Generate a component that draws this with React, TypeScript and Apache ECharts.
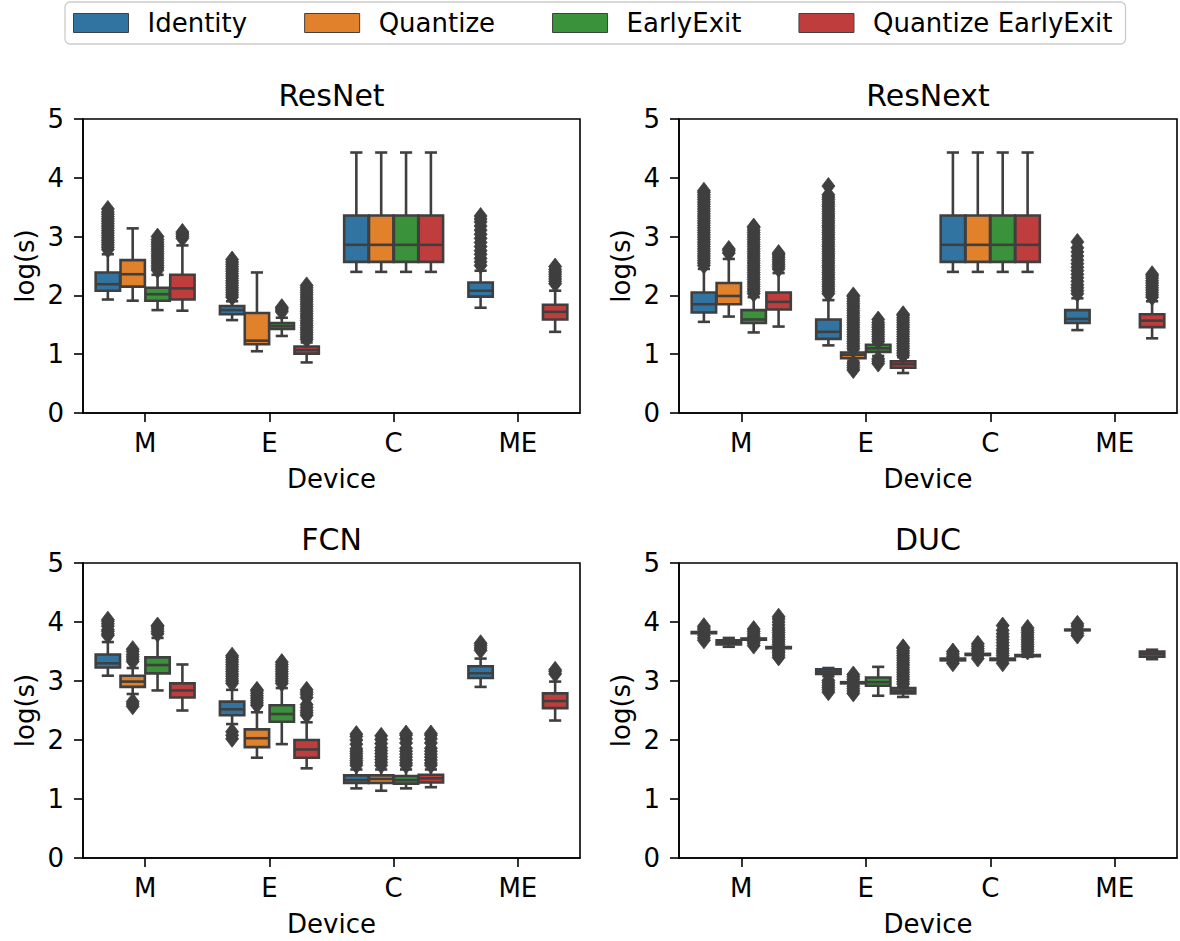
import React, { useEffect, useRef } from 'react';
import * as echarts from 'echarts';

// ---------- categories ----------
const devices = ['M', 'E', 'C', 'ME'];
const methods = ['Identity', 'Quantize', 'EarlyExit', 'Quantize EarlyExit'];
const models = ['ResNet', 'ResNext', 'FCN', 'DUC'];
const methodColors = ['#3274a1', '#e1812c', '#3a923a', '#c03d3e'];

// ---------- box statistics: [min, Q1, median, Q3, max] per device (M, E, C, ME) ----------
const resnetIdentity = [[1.93, 2.08, 2.19, 2.39, 2.70], [1.58, 1.68, 1.75, 1.82, 1.90], [2.40, 2.57, 2.86, 3.36, 4.43], [1.79, 1.98, 2.08, 2.22, 2.42]];
const resnetQuantize = [[1.91, 2.15, 2.36, 2.60, 3.14], [1.05, 1.17, 1.23, 1.70, 2.39], [2.40, 2.57, 2.86, 3.36, 4.43], null];
const resnetEarlyExit = [[1.75, 1.91, 2.02, 2.13, 2.35], [1.31, 1.43, 1.48, 1.53, 1.62], [2.40, 2.57, 2.86, 3.36, 4.43], null];
const resnetQuantizeEarlyExit = [[1.74, 1.93, 2.12, 2.35, 2.85], [0.86, 1.01, 1.07, 1.13, 1.20], [2.40, 2.57, 2.86, 3.36, 4.43], [1.38, 1.59, 1.72, 1.84, 2.08]];

const resnextIdentity = [[1.55, 1.71, 1.85, 2.05, 2.45], [1.15, 1.26, 1.38, 1.59, 1.92], [2.40, 2.57, 2.86, 3.36, 4.43], [1.41, 1.53, 1.60, 1.75, 1.95]];
const resnextQuantize = [[1.64, 1.85, 1.99, 2.21, 2.62], [0.89, 0.93, 0.99, 1.03, 1.07], [2.40, 2.57, 2.86, 3.36, 4.43], null];
const resnextEarlyExit = [[1.37, 1.53, 1.59, 1.75, 1.97], [0.97, 1.04, 1.10, 1.16, 1.20], [2.40, 2.57, 2.86, 3.36, 4.43], null];
const resnextQuantizeEarlyExit = [[1.47, 1.76, 1.89, 2.05, 2.38], [0.68, 0.77, 0.83, 0.88, 0.95], [2.40, 2.57, 2.86, 3.36, 4.43], [1.27, 1.46, 1.57, 1.68, 1.90]];

const fcnIdentity = [[3.09, 3.23, 3.30, 3.45, 3.66], [2.27, 2.42, 2.52, 2.65, 2.85], [1.18, 1.27, 1.32, 1.40, 1.50], [2.90, 3.05, 3.13, 3.25, 3.38]];
const fcnQuantize = [[2.78, 2.90, 2.99, 3.09, 3.22], [1.70, 1.88, 2.03, 2.18, 2.47], [1.14, 1.27, 1.34, 1.40, 1.50], null];
const fcnEarlyExit = [[2.84, 3.13, 3.27, 3.40, 3.73], [1.93, 2.31, 2.44, 2.59, 2.88], [1.18, 1.26, 1.32, 1.39, 1.50], null];
const fcnQuantizeEarlyExit = [[2.50, 2.72, 2.84, 2.96, 3.28], [1.52, 1.70, 1.84, 2.00, 2.30], [1.20, 1.28, 1.35, 1.41, 1.50], [2.33, 2.54, 2.66, 2.79, 2.99]];

const ducIdentity = [[3.80, 3.81, 3.82, 3.83, 3.84], [3.08, 3.12, 3.16, 3.20, 3.22], [3.33, 3.35, 3.36, 3.38, 3.40], [3.85, 3.86, 3.865, 3.87, 3.88]];
const ducQuantize = [[3.58, 3.62, 3.66, 3.69, 3.73], [2.94, 2.96, 2.97, 2.98, 3.00], [3.42, 3.44, 3.45, 3.46, 3.48], null];
const ducEarlyExit = [[3.69, 3.70, 3.71, 3.72, 3.73], [2.75, 2.92, 2.98, 3.06, 3.24], [3.34, 3.355, 3.365, 3.38, 3.39], null];
const ducQuantizeEarlyExit = [[3.54, 3.555, 3.565, 3.575, 3.59], [2.73, 2.79, 2.83, 2.88, 2.90], [3.41, 3.42, 3.43, 3.44, 3.46], [3.37, 3.41, 3.46, 3.50, 3.53]];

// ---------- outliers per device (M, E, C, ME) ----------
const resnetIdentityOut = [
  [2.78, 2.82, 2.86, 2.9, 2.94, 2.98, 3.02, 3.06, 3.1, 3.14, 3.18, 3.22, 3.26, 3.3, 3.34, 3.38, 3.42, 3.47],
  [1.97, 2.01, 2.05, 2.09, 2.13, 2.17, 2.21, 2.25, 2.29, 2.33, 2.37, 2.41, 2.45, 2.49, 2.53, 2.57, 2.61],
  [],
  [2.51, 2.57, 2.63, 2.7, 2.76, 2.83, 2.9, 2.97, 3.04, 3.11, 3.18, 3.25, 3.3, 3.35],
];
const resnetQuantizeOut = [[], [], [], []];
const resnetEarlyExitOut = [
  [2.43, 2.47, 2.51, 2.55, 2.59, 2.63, 2.67, 2.71, 2.75, 2.79, 2.83, 2.87, 2.91, 2.95, 3.0],
  [1.72, 1.75, 1.78, 1.8],
  [],
  [],
];
const resnetQuantizeEarlyExitOut = [
  [2.97, 3.0, 3.03, 3.06, 3.08],
  [1.25, 1.29, 1.33, 1.37, 1.41, 1.45, 1.49, 1.53, 1.57, 1.61, 1.65, 1.69, 1.73, 1.77, 1.81, 1.85, 1.89, 1.93, 1.97, 2.01, 2.05, 2.09, 2.13, 2.17],
  [],
  [2.2, 2.24, 2.28, 2.32, 2.36, 2.4, 2.44, 2.49],
];

const resnextIdentityOut = [
  [2.51, 2.55, 2.59, 2.63, 2.67, 2.71, 2.75, 2.79, 2.83, 2.87, 2.91, 2.95, 2.99, 3.03, 3.07, 3.11, 3.15, 3.19, 3.23, 3.27, 3.31, 3.35, 3.39, 3.43, 3.47, 3.51, 3.55, 3.59, 3.63, 3.67, 3.71, 3.75, 3.78],
  [2.03, 2.07, 2.11, 2.15, 2.19, 2.23, 2.27, 2.31, 2.35, 2.39, 2.43, 2.47, 2.51, 2.55, 2.59, 2.63, 2.67, 2.71, 2.75, 2.79, 2.83, 2.87, 2.91, 2.95, 2.99, 3.03, 3.07, 3.11, 3.15, 3.19, 3.23, 3.27, 3.31, 3.35, 3.39, 3.43, 3.47, 3.51, 3.55, 3.59, 3.63, 3.67, 3.71, 3.86],
  [],
  [2.03, 2.08, 2.13, 2.18, 2.24, 2.3, 2.36, 2.42, 2.48, 2.54, 2.6, 2.67, 2.74, 2.81, 2.91],
];
const resnextQuantizeOut = [
  [2.72, 2.76, 2.79],
  [0.73, 0.77, 0.81, 0.85, 1.1, 1.14, 1.18, 1.22, 1.26, 1.3, 1.34, 1.38, 1.42, 1.46, 1.5, 1.54, 1.58, 1.62, 1.66, 1.7, 1.74, 1.78, 1.82, 1.86, 1.9, 1.94, 1.98, 2.0],
  [],
  [],
];
const resnextEarlyExitOut = [
  [2.03, 2.07, 2.11, 2.15, 2.19, 2.23, 2.27, 2.31, 2.35, 2.39, 2.43, 2.47, 2.51, 2.55, 2.59, 2.63, 2.67, 2.71, 2.75, 2.79, 2.83, 2.87, 2.91, 2.95, 2.99, 3.03, 3.07, 3.11, 3.15, 3.17],
  [0.84, 0.88, 0.92, 1.22, 1.26, 1.3, 1.34, 1.38, 1.42, 1.46, 1.5, 1.54, 1.59],
  [],
  [],
];
const resnextQuantizeEarlyExitOut = [
  [2.45, 2.49, 2.53, 2.57, 2.61, 2.65, 2.69, 2.72],
  [0.98, 1.02, 1.06, 1.1, 1.14, 1.18, 1.22, 1.26, 1.3, 1.34, 1.38, 1.42, 1.46, 1.5, 1.54, 1.58, 1.62, 1.66, 1.68],
  [],
  [1.97, 2.01, 2.05, 2.09, 2.13, 2.17, 2.21, 2.25, 2.29, 2.33, 2.36],
];

const fcnIdentityOut = [
  [3.77, 3.8, 3.84, 3.87, 3.93, 3.97, 4.01, 4.04],
  [2.02, 2.08, 2.14, 2.96, 3.0, 3.04, 3.08, 3.12, 3.16, 3.2, 3.24, 3.28, 3.32, 3.36, 3.4, 3.43],
  [1.57, 1.61, 1.65, 1.69, 1.73, 1.77, 1.81, 1.85, 1.93, 2.0, 2.06, 2.1],
  [3.52, 3.56, 3.6, 3.64],
];
const fcnQuantizeOut = [
  [2.57, 2.61, 2.65, 3.33, 3.37, 3.41, 3.45, 3.5, 3.54],
  [2.59, 2.63, 2.67, 2.71, 2.75, 2.79, 2.83, 2.85],
  [1.57, 1.62, 1.67, 1.72, 1.77, 1.82, 1.87, 1.94, 2.01, 2.07],
  [],
];
const fcnEarlyExitOut = [
  [3.8, 3.84, 3.88, 3.92, 3.94],
  [2.96, 3.0, 3.04, 3.08, 3.12, 3.16, 3.2, 3.24, 3.28, 3.32],
  [1.57, 1.61, 1.66, 1.71, 1.76, 1.81, 1.86, 1.95, 2.02, 2.08, 2.11],
  [],
];
const fcnQuantizeEarlyExitOut = [
  [],
  [2.42, 2.46, 2.5, 2.55, 2.6, 2.72, 2.77, 2.81, 2.85],
  [1.57, 1.61, 1.66, 1.71, 1.76, 1.81, 1.86, 1.95, 2.02, 2.08, 2.11],
  [3.12, 3.16, 3.19],
];

const ducIdentityOut = [
  [3.69, 3.73, 3.77, 3.87, 3.9, 3.93],
  [2.81, 2.85, 2.89, 2.93, 2.97, 3.01],
  [3.3, 3.42, 3.46, 3.5],
  [3.77, 3.81, 3.93, 3.97],
];
const ducQuantizeOut = [
  [],
  [2.79, 2.83, 2.87, 2.91, 3.03, 3.07, 3.11],
  [3.38, 3.51, 3.55, 3.59, 3.63],
  [],
];
const ducEarlyExitOut = [
  [3.6, 3.64, 3.67, 3.76, 3.8, 3.84, 3.88],
  [],
  [3.3, 3.43, 3.47, 3.51, 3.55, 3.6, 3.65, 3.7, 3.75, 3.8, 3.86, 3.94],
  [],
];
const ducQuantizeEarlyExitOut = [
  [3.4, 3.44, 3.48, 3.51, 3.62, 3.66, 3.7, 3.74, 3.78, 3.82, 3.86, 3.9, 3.95, 4.0, 4.05, 4.09],
  [2.95, 2.99, 3.03, 3.07, 3.11, 3.15, 3.19, 3.23, 3.27, 3.31, 3.35, 3.39, 3.43, 3.47, 3.51, 3.55, 3.57],
  [3.5, 3.54, 3.58, 3.62, 3.66, 3.7, 3.74, 3.78, 3.82, 3.86, 3.9],
  [],
];

const boxTables = [
  [resnetIdentity, resnetQuantize, resnetEarlyExit, resnetQuantizeEarlyExit],
  [resnextIdentity, resnextQuantize, resnextEarlyExit, resnextQuantizeEarlyExit],
  [fcnIdentity, fcnQuantize, fcnEarlyExit, fcnQuantizeEarlyExit],
  [ducIdentity, ducQuantize, ducEarlyExit, ducQuantizeEarlyExit],
];
const outlierTables = [
  [resnetIdentityOut, resnetQuantizeOut, resnetEarlyExitOut, resnetQuantizeEarlyExitOut],
  [resnextIdentityOut, resnextQuantizeOut, resnextEarlyExitOut, resnextQuantizeEarlyExitOut],
  [fcnIdentityOut, fcnQuantizeOut, fcnEarlyExitOut, fcnQuantizeEarlyExitOut],
  [ducIdentityOut, ducQuantizeOut, ducEarlyExitOut, ducQuantizeEarlyExitOut],
];

// ---------- styling / layout ----------
const FONT = 'DejaVu Sans';
const GRAY = '#3f3f3f';
const LW = 2.6;
const grids = [
  { left: 83, top: 119, width: 497, height: 294 },
  { left: 679, top: 119, width: 498, height: 294 },
  { left: 83, top: 563, width: 497, height: 295 },
  { left: 679, top: 563, width: 498, height: 295 },
];

const makeBoxRenderer = (h: number, color: string) => (params: any, api: any) => {
  const x = api.value(0);
  const band = api.size([1, 0])[0];
  const off = (h - 1.5) * 0.2 * band;
  const w = 0.2 * band * 0.98;
  const cap = w / 2;
  const pMin = api.coord([x, api.value(1)]);
  const pQ1 = api.coord([x, api.value(2)]);
  const pMed = api.coord([x, api.value(3)]);
  const pQ3 = api.coord([x, api.value(4)]);
  const pMax = api.coord([x, api.value(5)]);
  const cx = pMed[0] + off;
  const ls = { stroke: GRAY, lineWidth: LW };
  return {
    type: 'group',
    children: [
      { type: 'line', shape: { x1: cx, y1: pQ1[1], x2: cx, y2: pMin[1] }, style: ls },
      { type: 'line', shape: { x1: cx, y1: pQ3[1], x2: cx, y2: pMax[1] }, style: ls },
      { type: 'line', shape: { x1: cx - cap / 2, y1: pMin[1], x2: cx + cap / 2, y2: pMin[1] }, style: ls },
      { type: 'line', shape: { x1: cx - cap / 2, y1: pMax[1], x2: cx + cap / 2, y2: pMax[1] }, style: ls },
      {
        type: 'rect',
        shape: { x: cx - w / 2, y: pQ3[1], width: w, height: Math.max(pQ1[1] - pQ3[1], 0.5) },
        style: { fill: color, stroke: GRAY, lineWidth: LW },
      },
      { type: 'line', shape: { x1: cx - w / 2, y1: pMed[1], x2: cx + w / 2, y2: pMed[1] }, style: ls },
    ],
  };
};

const makeFlierRenderer = (h: number) => (params: any, api: any) => {
  const x = api.value(0);
  const band = api.size([1, 0])[0];
  const pt = api.coord([x, api.value(1)]);
  const cx = pt[0] + (h - 1.5) * 0.2 * band;
  const cy = pt[1];
  const hw = 6.5;
  const hh = 8.5;
  return {
    type: 'polygon',
    shape: { points: [[cx, cy - hh], [cx + hw, cy], [cx, cy + hh], [cx - hw, cy]] },
    style: { fill: GRAY, stroke: GRAY, lineWidth: 0.8 },
  };
};

function buildOption() {
  const xAxis: any[] = [];
  const yAxis: any[] = [];
  const series: any[] = [];
  const graphic: any[] = [];

  grids.forEach((g, gi) => {
    xAxis.push({
      type: 'category',
      gridIndex: gi,
      data: devices,
      name: 'Device',
      nameLocation: 'middle',
      nameGap: 53,
      nameTextStyle: { fontSize: 26, color: '#000', fontFamily: FONT },
      axisLine: { show: true, lineStyle: { color: '#000', width: 1.6 } },
      axisTick: { show: true, alignWithLabel: true, length: 9, lineStyle: { color: '#000', width: 1.6 } },
      axisLabel: { fontSize: 26, color: '#000', fontFamily: FONT, margin: 17 },
      splitLine: { show: false },
    });
    yAxis.push({
      type: 'value',
      gridIndex: gi,
      min: 0,
      max: 5,
      interval: 1,
      name: 'log(s)',
      nameLocation: 'middle',
      nameGap: 45,
      nameTextStyle: { fontSize: 26, color: '#000', fontFamily: FONT },
      axisLine: { show: true, lineStyle: { color: '#000', width: 1.6 } },
      axisTick: { show: true, length: 9, lineStyle: { color: '#000', width: 1.6 } },
      axisLabel: { fontSize: 26, color: '#000', fontFamily: FONT, margin: 19 },
      splitLine: { show: false },
    });
    graphic.push({
      type: 'text',
      x: g.left + g.width / 2,
      y: g.top - 24,
      style: {
        text: models[gi],
        fontSize: 30,
        fontFamily: FONT,
        fill: '#000',
        align: 'center',
        verticalAlign: 'middle',
        textAlign: 'center',
        textVerticalAlign: 'middle',
      },
    });

    methods.forEach((m, h) => {
      const table = boxTables[gi][h];
      const boxData: any[] = [];
      table.forEach((b, i) => {
        if (b) boxData.push([i, ...b]);
      });
      series.push({
        type: 'custom',
        name: m,
        xAxisIndex: gi,
        yAxisIndex: gi,
        data: boxData,
        encode: { x: 0, y: [1, 2, 3, 4, 5] },
        renderItem: makeBoxRenderer(h, methodColors[h]),
        itemStyle: { color: methodColors[h], borderColor: GRAY, borderWidth: 1 },
        z: 2,
      });
      const outData: any[] = [];
      outlierTables[gi][h].forEach((list, i) => list.forEach((v) => outData.push([i, v])));
      series.push({
        type: 'custom',
        name: m + ' outliers',
        xAxisIndex: gi,
        yAxisIndex: gi,
        data: outData,
        encode: { x: 0, y: 1 },
        renderItem: makeFlierRenderer(h),
        itemStyle: { color: GRAY },
        z: 3,
      });
    });
  });

  return {
    animation: false,
    backgroundColor: '#ffffff',
    grid: grids.map((g) => ({ ...g, show: true, borderColor: '#000', borderWidth: 1.6, backgroundColor: 'transparent' })),
    xAxis,
    yAxis,
    series,
    graphic,
    legend: {
      data: methods,
      left: 65,
      top: 2,
      orient: 'horizontal',
      icon: 'rect',
      itemWidth: 55,
      itemHeight: 19,
      itemGap: 57,
      padding: [8, 13, 8, 8],
      borderColor: '#cccccc',
      borderWidth: 1.3,
      borderRadius: 5,
      backgroundColor: '#ffffff',
      selectedMode: false,
      itemStyle: { borderColor: GRAY, borderWidth: 1 },
      textStyle: { fontSize: 26, color: '#000', fontFamily: FONT, padding: [0, 0, 0, 14] },
    },
  };
}

export default function App() {
  const ref = useRef<HTMLDivElement>(null);
  useEffect(() => {
    document.body.style.margin = '0';
    if (!ref.current) return;
    const chart = echarts.init(ref.current, undefined, { renderer: 'svg' });
    chart.setOption(buildOption() as any);
    return () => chart.dispose();
  }, []);
  return <div ref={ref} style={{ position: 'absolute', left: 0, top: 0, width: 1180, height: 941 }} />;
}
